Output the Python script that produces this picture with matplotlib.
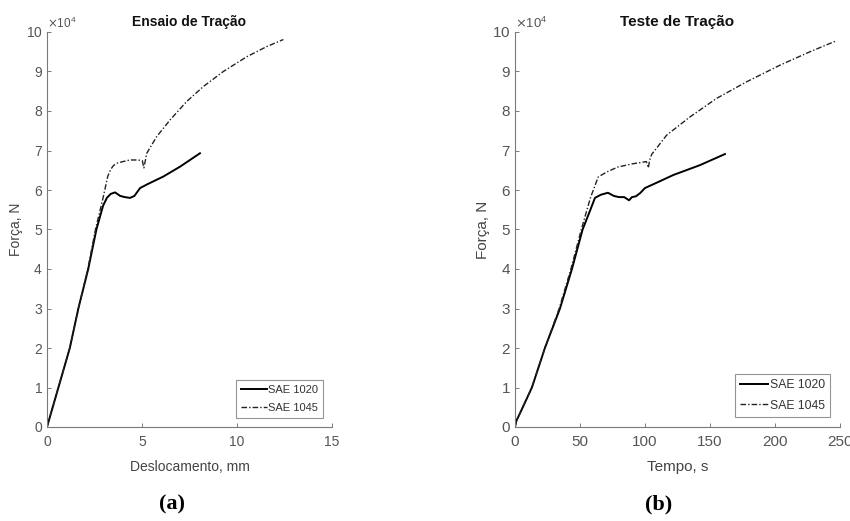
import matplotlib
matplotlib.use("Agg")
import matplotlib.pyplot as plt
from matplotlib.ticker import ScalarFormatter

plt.rcParams['font.family'] = ['Liberation Sans', 'DejaVu Sans']

# ---- Data (force in N) ----
# Panel (a): displacement (mm)
disp_1020 = [0, 0.6, 1.2, 1.65, 2.17, 2.6, 2.95, 3.15, 3.35, 3.58, 3.85, 4.1, 4.37, 4.6, 4.9, 5.3, 6.12, 7.0, 8.05]
force_1020_a = [0, 10000, 20000, 30000, 40000, 50000, 56000, 58000, 59000, 59400, 58500, 58200, 58000, 58500, 60500, 61500, 63400, 65900, 69300]
disp_1045 = [0, 0.6, 1.2, 1.65, 2.15, 2.55, 2.95, 3.2, 3.35, 3.5, 3.7, 4.0, 4.37, 4.8, 5.02, 5.07, 5.1, 5.25, 5.77, 6.47, 7.35, 8.23, 9.28, 10.5, 11.56, 12.44]
force_1045_a = [0, 10000, 20000, 30000, 40000, 50000, 58000, 63500, 65200, 66200, 66800, 67200, 67600, 67600, 67400, 66200, 65600, 69300, 73500, 77700, 82400, 86200, 90000, 93700, 96300, 98100]

# Panel (b): time (s)
time_1020 = [0, 1, 5, 13, 23, 34.6, 43.8, 52, 58, 61.5, 66, 71.5, 76, 80, 84, 87.7, 90, 93, 96.2, 100, 110, 121.8, 142.3, 161.5]
force_1020_b = [0, 1500, 4300, 10000, 20000, 30000, 40000, 50000, 55000, 58000, 58800, 59300, 58500, 58200, 58200, 57400, 58200, 58400, 59200, 60500, 62000, 63800, 66300, 69100]
time_1045 = [0, 1, 5, 13, 23, 34, 43, 51, 58, 64, 70.8, 79, 90, 101, 102.6, 103.5, 105.1, 116.7, 134.6, 155.1, 178.2, 203.8, 226.9, 247.4]
force_1045_b = [0, 1500, 4300, 10000, 20000, 30000, 40000, 50000, 58000, 63300, 64600, 65800, 66600, 67200, 65600, 67500, 69000, 73900, 78500, 83200, 87400, 91600, 95000, 97800]

xlabels = ["Deslocamento, mm", "Tempo, s"]
titles = ["Ensaio de Tração", "Teste de Tração"]
captions = ["(a)", "(b)"]
legend_labels = ["SAE 1020", "SAE 1045"]
xlims = [(0, 15), (0, 250)]
xticks = [[0, 5, 10, 15], [0, 50, 100, 150, 200, 250]]
yticks = [i * 10000 for i in range(11)]

W, H = 850, 521
fig = plt.figure(figsize=(W / 100, H / 100), dpi=100)

axes_px = [(47, 332), (515, 840)]
caption_x = [172, 659]
top_px, bot_px = 32, 427
fscale = [1.0, 1.1]

series = [
    ((disp_1020, force_1020_a), (disp_1045, force_1045_a)),
    ((time_1020, force_1020_b), (time_1045, force_1045_b)),
]

gray = "#7a7a7a"
tickc = "#555555"
dashdot = (0, (4, 1.5, 1, 1.5))

for i in range(2):
    l, r = axes_px[i]
    fs = fscale[i]
    ax = fig.add_axes([l / W, 1 - bot_px / H, (r - l) / W, (bot_px - top_px) / H])
    (x1, y1), (x2, y2) = series[i]
    ax.plot(x1, y1, color="black", lw=1.4, ls="-", label=legend_labels[0])
    ax.plot(x2, y2, color="#222222", lw=1.0, ls=dashdot, label=legend_labels[1])
    ax.set_xlim(*xlims[i])
    ax.set_ylim(0, 100000)
    ax.set_xticks(xticks[i])
    ax.set_yticks(yticks)
    fmt = ScalarFormatter(useMathText=True)
    fmt.set_powerlimits((4, 4))
    ax.yaxis.set_major_formatter(fmt)
    ax.yaxis.get_offset_text().set_fontsize(8.5 * fs)
    ax.yaxis.get_offset_text().set_color(gray)
    for s in ["top", "right"]:
        ax.spines[s].set_visible(False)
    for s in ["left", "bottom"]:
        ax.spines[s].set_color(gray)
        ax.spines[s].set_linewidth(0.8)
    ax.tick_params(direction="in", length=3, width=0.7, colors=gray, labelcolor=tickc,
                   labelsize=10 * fs)
    ax.tick_params(axis="x", pad=6)
    ax.tick_params(axis="y", pad=3)
    ax.set_xlabel(xlabels[i], fontsize=10 * fs, color="#444444", labelpad=8)
    ax.set_ylabel("Força, N", fontsize=10 * fs, color="#444444", labelpad=2)
    ax.set_title(titles[i], fontsize=10 * fs, fontweight="bold", color="#111111", pad=4)
    leg = ax.legend(loc="lower right", fontsize=8 * fs, frameon=True, fancybox=False,
                    edgecolor=gray, handlelength=2.3, handletextpad=0.1,
                    borderaxespad=0.8, labelspacing=0.7, borderpad=0.45)
    leg.get_frame().set_linewidth(0.8)
    for t in leg.get_texts():
        t.set_color("#333333")
    fig.text(caption_x[i] / W, 1 - 504 / H, captions[i], ha="center", va="center",
             fontsize=16, fontweight="bold", family=["Liberation Serif", "DejaVu Serif"])

fig.savefig("out.png", dpi=100)
